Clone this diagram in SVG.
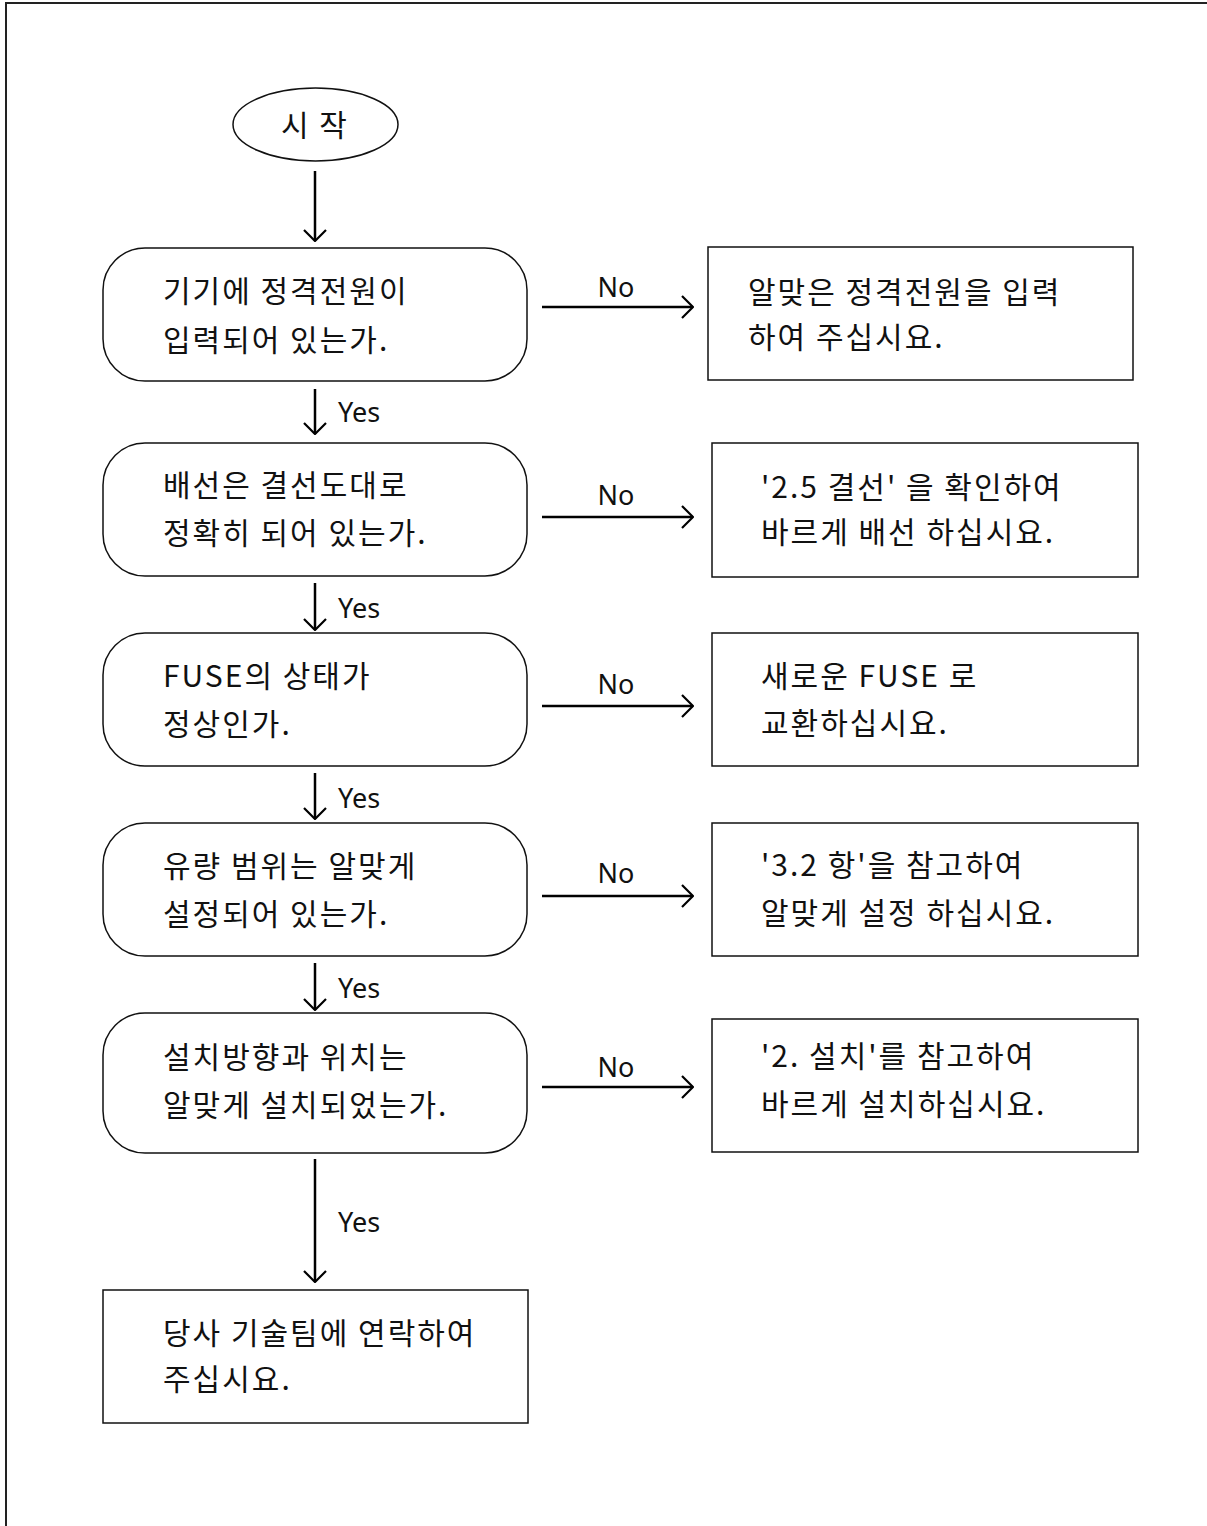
<svg xmlns="http://www.w3.org/2000/svg" width="1207" height="1526" viewBox="0 0 1207 1526">
<style>
.bg{fill:#fff}
.frame{fill:none;stroke:#222;stroke-width:2}
.node{fill:#fff;stroke:#111;stroke-width:1.5}
.t{font-family:"Noto Sans CJK KR","Noto Sans",sans-serif;font-size:30px;letter-spacing:2px;fill:#111}
.lab{font-family:"Noto Sans","Noto Sans CJK KR",sans-serif;font-size:27px;fill:#111}
.c{fill:none;stroke:#000;stroke-width:2.5}
</style>
<defs>
<marker id="ah" viewBox="0 0 13 24" refX="12" refY="12" markerWidth="13" markerHeight="24" markerUnits="userSpaceOnUse" orient="auto">
<path d="M1,1 L12,12 L1,23" fill="none" stroke="#000" stroke-width="2.2"/>
</marker>
</defs>
<rect class="bg" x="0" y="0" width="1207" height="1526"/>
<path class="frame" d="M6,1530 V3 H1210"/>

<g id="start">
<ellipse class="node" cx="315.5" cy="124.5" rx="82.5" ry="36.5"/>
<text class="t" x="315" y="136" text-anchor="middle">시 작</text>
</g>

<g id="q1">
<rect class="node" x="103" y="248" width="424" height="133" rx="42" ry="42"/>
<text class="t" x="163" y="302">기기에 정격전원이</text>
<text class="t" x="163" y="351">입력되어 있는가.</text>
</g>
<g id="a1">
<rect class="node" x="708" y="247" width="425" height="133"/>
<text class="t" x="748" y="303">알맞은 정격전원을 입력</text>
<text class="t" x="748" y="348">하여 주십시요.</text>
</g>

<g id="q2">
<rect class="node" x="103" y="443" width="424" height="133" rx="42" ry="42"/>
<text class="t" x="163" y="496">배선은 결선도대로</text>
<text class="t" x="163" y="544">정확히 되어 있는가.</text>
</g>
<g id="a2">
<rect class="node" x="712" y="443" width="426" height="134"/>
<text class="t" x="761" y="498">'2.5 결선' 을 확인하여</text>
<text class="t" x="761" y="543">바르게 배선 하십시요.</text>
</g>

<g id="q3">
<rect class="node" x="103" y="633" width="424" height="133" rx="42" ry="42"/>
<text class="t" x="163" y="687">FUSE의 상태가</text>
<text class="t" x="163" y="735">정상인가.</text>
</g>
<g id="a3">
<rect class="node" x="712" y="633" width="426" height="133"/>
<text class="t" x="761" y="687">새로운 FUSE 로</text>
<text class="t" x="761" y="734">교환하십시요.</text>
</g>

<g id="q4">
<rect class="node" x="103" y="823" width="424" height="133" rx="42" ry="42"/>
<text class="t" x="163" y="877">유량 범위는 알맞게</text>
<text class="t" x="163" y="925">설정되어 있는가.</text>
</g>
<g id="a4">
<rect class="node" x="712" y="823" width="426" height="133"/>
<text class="t" x="761" y="876">'3.2 항'을 참고하여</text>
<text class="t" x="761" y="924">알맞게 설정 하십시요.</text>
</g>

<g id="q5">
<rect class="node" x="103" y="1013" width="424" height="140" rx="42" ry="42"/>
<text class="t" x="163" y="1068">설치방향과 위치는</text>
<text class="t" x="163" y="1116">알맞게 설치되었는가.</text>
</g>
<g id="a5">
<rect class="node" x="712" y="1019" width="426" height="133"/>
<text class="t" x="761" y="1067">'2. 설치'를 참고하여</text>
<text class="t" x="761" y="1115">바르게 설치하십시요.</text>
</g>

<g id="end">
<rect class="node" x="103" y="1290" width="425" height="133"/>
<text class="t" x="163" y="1344">당사 기술팀에 연락하여</text>
<text class="t" x="163" y="1390">주십시요.</text>
</g>

<g id="connectors">
<line class="c" x1="315" y1="171" x2="315" y2="241" marker-end="url(#ah)"/>
<line class="c" x1="315" y1="389" x2="315" y2="434" marker-end="url(#ah)"/>
<line class="c" x1="315" y1="583" x2="315" y2="630" marker-end="url(#ah)"/>
<line class="c" x1="315" y1="773" x2="315" y2="819" marker-end="url(#ah)"/>
<line class="c" x1="315" y1="963" x2="315" y2="1010" marker-end="url(#ah)"/>
<line class="c" x1="315" y1="1159" x2="315" y2="1282" marker-end="url(#ah)"/>
<line class="c" x1="542" y1="307" x2="693" y2="307" marker-end="url(#ah)"/>
<line class="c" x1="542" y1="517" x2="693" y2="517" marker-end="url(#ah)"/>
<line class="c" x1="542" y1="706" x2="693" y2="706" marker-end="url(#ah)"/>
<line class="c" x1="542" y1="896" x2="693" y2="896" marker-end="url(#ah)"/>
<line class="c" x1="542" y1="1087" x2="693" y2="1087" marker-end="url(#ah)"/>
<text class="lab" x="338" y="422">Yes</text>
<text class="lab" x="338" y="618">Yes</text>
<text class="lab" x="338" y="808">Yes</text>
<text class="lab" x="338" y="998">Yes</text>
<text class="lab" x="338" y="1232">Yes</text>
<text class="lab" x="616" y="297" text-anchor="middle">No</text>
<text class="lab" x="616" y="505" text-anchor="middle">No</text>
<text class="lab" x="616" y="694" text-anchor="middle">No</text>
<text class="lab" x="616" y="883" text-anchor="middle">No</text>
<text class="lab" x="616" y="1077" text-anchor="middle">No</text>
</g>
</svg>
